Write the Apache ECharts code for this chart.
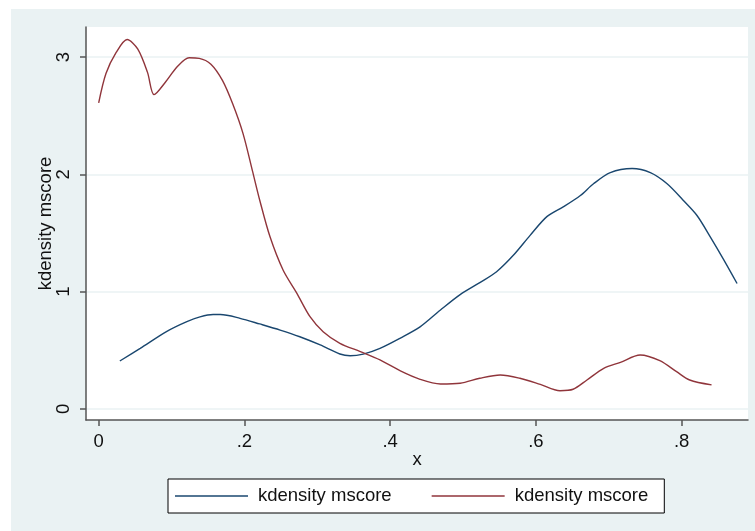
<!DOCTYPE html>
<html>
<head>
<meta charset="utf-8">
<script src="https://cdn.jsdelivr.net/npm/echarts@6/dist/echarts.min.js"></script>
<style>
  html, body { margin: 0; padding: 0; background: #ffffff; }
  #chart { width: 755px; height: 531px; }
</style>
</head>
<body>
<div id="chart"></div>
<script>
// Kernel density estimates of mscore (two groups)
const blueX = [0.029, 0.057, 0.093, 0.121, 0.139, 0.157, 0.167, 0.194, 0.221, 0.249, 0.276, 0.304, 0.331, 0.345, 0.363, 0.386, 0.414, 0.441, 0.469, 0.496, 0.523, 0.546, 0.569, 0.592, 0.615, 0.638, 0.661, 0.679, 0.702, 0.732, 0.757, 0.780, 0.802, 0.821, 0.839, 0.857, 0.876];
const blueY = [0.409, 0.517, 0.660, 0.745, 0.785, 0.805, 0.805, 0.773, 0.725, 0.673, 0.616, 0.546, 0.469, 0.454, 0.468, 0.517, 0.605, 0.700, 0.844, 0.975, 1.077, 1.170, 1.310, 1.480, 1.640, 1.725, 1.820, 1.920, 2.015, 2.050, 2.015, 1.920, 1.780, 1.650, 1.470, 1.280, 1.070];

const redX = [0.000, 0.010, 0.024, 0.039, 0.0535, 0.067, 0.076, 0.092, 0.108, 0.124, 0.138, 0.154, 0.170, 0.184, 0.198, 0.211, 0.221, 0.235, 0.253, 0.272, 0.290, 0.308, 0.331, 0.359, 0.386, 0.414, 0.441, 0.469, 0.496, 0.523, 0.551, 0.578, 0.606, 0.633, 0.651, 0.670, 0.693, 0.716, 0.743, 0.770, 0.793, 0.811, 0.841];
const redY = [2.610, 2.860, 3.040, 3.150, 3.070, 2.870, 2.680, 2.790, 2.920, 2.995, 2.990, 2.940, 2.800, 2.600, 2.350, 2.030, 1.780, 1.470, 1.185, 0.986, 0.787, 0.659, 0.560, 0.489, 0.418, 0.325, 0.253, 0.213, 0.219, 0.262, 0.290, 0.262, 0.210, 0.156, 0.168, 0.247, 0.347, 0.398, 0.460, 0.412, 0.318, 0.247, 0.205];

const xTickValues = [0, 0.2, 0.4, 0.6, 0.8];
const xTickLabels = ['0', '.2', '.4', '.6', '.8'];
const yTickValues = [0, 1, 2, 3];
const yTickLabels = ['0', '1', '2', '3'];

const seriesNames = ['density A', 'density B'];
const legendLabels = ['kdensity mscore', 'kdensity mscore'];
const xTitle = 'x';
const yTitle = 'kdensity mscore';

const FONT = 'Liberation Sans, Arial, sans-serif';
const FONT_SIZE = 18.5;
const AXIS_COLOR = '#555555';
const BG_COLOR = '#eaf2f3';

function pairs(xs, ys) { return xs.map((x, i) => [x, ys[i]]); }
function lookup(values, labels) {
  return v => {
    const i = values.findIndex(t => Math.abs(t - v) < 1e-9);
    return i >= 0 ? labels[i] : '';
  };
}

const chart = echarts.init(document.getElementById('chart'), null, { renderer: 'canvas' });

chart.setOption({
  animation: false,
  backgroundColor: '#ffffff',
  textStyle: { fontFamily: FONT },
  graphic: {
    elements: [{
      type: 'rect', z: -10, silent: true,
      shape: { x: 11, y: 9, width: 744, height: 522 },
      style: { fill: BG_COLOR }
    }]
  },
  grid: {
    left: 86, right: 7, top: 27, bottom: 111,
    show: true, backgroundColor: '#ffffff', borderWidth: 0
  },
  xAxis: {
    type: 'value',
    min: -0.0174, max: 0.891,
    name: xTitle,
    nameLocation: 'middle',
    nameGap: 30,
    nameMoveOverlap: false,
    nameTextStyle: { fontSize: FONT_SIZE, color: '#111', fontFamily: FONT },
    axisLine: { show: true, onZero: false, lineStyle: { color: AXIS_COLOR, width: 1.5 } },
    axisTick: { show: true, length: 6, lineStyle: { color: AXIS_COLOR, width: 1.5 }, customValues: xTickValues },
    axisLabel: {
      customValues: xTickValues,
      formatter: lookup(xTickValues, xTickLabels),
      fontSize: FONT_SIZE, color: '#111', margin: 12, fontFamily: FONT
    },
    splitLine: { show: false }
  },
  yAxis: {
    type: 'value',
    min: -0.094, max: 3.257,
    name: yTitle,
    nameLocation: 'middle',
    nameGap: 31,
    nameMoveOverlap: false,
    nameRotate: 90,
    nameTextStyle: { fontSize: FONT_SIZE, color: '#111', fontFamily: FONT },
    axisLine: { show: true, onZero: false, lineStyle: { color: AXIS_COLOR, width: 1.5 } },
    axisTick: { show: true, length: 6, lineStyle: { color: AXIS_COLOR, width: 1.5 }, customValues: yTickValues },
    axisLabel: {
      customValues: yTickValues,
      formatter: lookup(yTickValues, yTickLabels),
      rotate: 90,
      fontSize: FONT_SIZE, color: '#111', margin: 13, fontFamily: FONT
    },
    splitLine: { show: true, lineStyle: { color: BG_COLOR, width: 1.5 } }
  },
  legend: {
    left: 168, top: 479,
    orient: 'horizontal',
    data: seriesNames,
    formatter: name => legendLabels[seriesNames.indexOf(name)],
    icon: 'rect',
    itemWidth: 73, itemHeight: 1.3,
    itemGap: 40,
    padding: [7, 16, 7, 7],
    borderColor: '#000000', borderWidth: 1,
    backgroundColor: '#ffffff',
    borderRadius: 0,
    selectedMode: false,
    textStyle: { fontSize: FONT_SIZE, color: '#111', lineHeight: 20, padding: [0, 0, 0, 5], fontFamily: FONT }
  },
  series: [
    {
      name: seriesNames[0], type: 'line', data: pairs(blueX, blueY),
      showSymbol: false, symbol: 'none', smooth: 0.3,
      lineStyle: { color: '#1a476f', width: 1.4 }, itemStyle: { color: '#1a476f' }
    },
    {
      name: seriesNames[1], type: 'line', data: pairs(redX, redY),
      showSymbol: false, symbol: 'none', smooth: 0.3,
      lineStyle: { color: '#90353b', width: 1.4 }, itemStyle: { color: '#90353b' }
    }
  ]
});
</script>
</body>
</html>
